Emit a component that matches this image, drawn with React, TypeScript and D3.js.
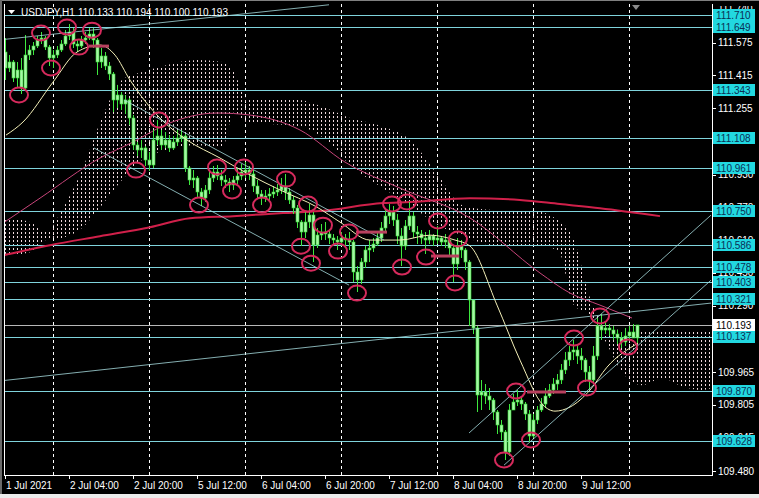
import React from "react";
import * as d3 from "d3";

// ---------- DATA (USDJPY H1, bar index 0 = 1 Jul 12:00) ----------
const firstOpen = 111.53;
const close = [
  111.451, 111.48, 111.402, 111.441, 111.353, 111.514, 111.539, 111.558, 111.588, 111.597,
  111.553, 111.5, 111.514, 111.539, 111.568, 111.607, 111.627, 111.568, 111.558, 111.588,
  111.597, 111.617, 111.588, 111.48, 111.509, 111.46, 111.421, 111.295, 111.319, 111.275,
  111.295, 111.206, 111.074, 111.05, 111.06, 111.001, 110.977, 111.099, 111.118, 111.074,
  111.099, 111.06, 111.089, 111.109, 111.118, 110.962, 110.903, 110.913, 110.845, 110.815,
  110.855, 110.913, 110.942, 110.923, 110.903, 110.894, 110.879, 110.903, 110.923, 110.942,
  110.952, 110.933, 110.874, 110.835, 110.815, 110.825, 110.835, 110.845, 110.855, 110.874,
  110.845, 110.806, 110.766, 110.698, 110.649, 110.698, 110.732, 110.585, 110.634, 110.649,
  110.639, 110.62, 110.61, 110.6, 110.62, 110.61, 110.6, 110.454, 110.414, 110.502,
  110.561, 110.571, 110.59, 110.62, 110.669, 110.727, 110.747, 110.708, 110.629, 110.58,
  110.678, 110.727, 110.649, 110.639, 110.62, 110.61, 110.629, 110.61, 110.62, 110.6,
  110.61, 110.571, 110.493, 110.58, 110.561, 110.502, 110.317, 110.18, 109.852, 109.867,
  109.847, 109.828, 109.769, 109.706, 109.671, 109.574, 109.779, 109.818, 109.828, 109.808,
  109.76, 109.652, 109.73, 109.779, 109.808, 109.847, 109.877, 109.906, 109.926, 109.975,
  110.023, 110.063, 110.072, 110.043, 110.023, 109.965, 109.926, 110.043, 110.19, 110.17,
  110.18, 110.17, 110.15, 110.131, 110.111, 110.141, 110.16, 110.133, 110.193,
];
const high = [
  111.597, 111.514, 111.49, 111.48, 111.5, 111.612, 111.563, 111.578, 111.607, 111.627,
  111.607, 111.563, 111.539, 111.558, 111.588, 111.636, 111.666, 111.646, 111.588, 111.607,
  111.627, 111.646, 111.646, 111.597, 111.548, 111.529, 111.48, 111.431, 111.368, 111.333,
  111.319, 111.304, 111.221, 111.089, 111.099, 111.069, 111.04, 111.148, 111.197, 111.148,
  111.138, 111.123, 111.118, 111.148, 111.148, 111.128, 110.972, 110.952, 110.923, 110.864,
  110.879, 110.942, 110.972, 110.977, 110.952, 110.928, 110.913, 110.923, 110.962, 110.981,
  110.991, 110.972, 110.952, 110.903, 110.855, 110.855, 110.864, 110.874, 110.884, 110.913,
  110.933, 110.864, 110.825, 110.781, 110.708, 110.747, 110.786, 110.747, 110.669, 110.688,
  110.698, 110.659, 110.639, 110.629, 110.649, 110.639, 110.649, 110.61, 110.483, 110.522,
  110.58, 110.61, 110.62, 110.649, 110.698, 110.757, 110.786, 110.776, 110.737, 110.669,
  110.708, 110.796, 110.747, 110.678, 110.659, 110.649, 110.659, 110.639, 110.678, 110.629,
  110.639, 110.62, 110.58, 110.62, 110.61, 110.571, 110.512, 110.317, 110.19, 109.926,
  109.906, 109.887, 109.838, 109.779, 109.73, 109.681, 109.808, 109.857, 109.877, 109.847,
  109.818, 109.779, 109.76, 109.799, 109.838, 109.887, 109.906, 109.935, 109.955, 110.004,
  110.063, 110.092, 110.121, 110.092, 110.082, 110.033, 109.994, 110.092, 110.229, 110.248,
  110.209, 110.199, 110.19, 110.17, 110.16, 110.18, 110.19, 110.199, 110.194,
];
const low = [
  111.392, 111.431, 111.382, 111.353, 111.324, 111.343, 111.49, 111.514, 111.548, 111.568,
  111.539, 111.46, 111.451, 111.5, 111.529, 111.558, 111.588, 111.548, 111.529, 111.548,
  111.568, 111.588, 111.548, 111.417, 111.451, 111.441, 111.392, 111.236, 111.255, 111.245,
  111.226, 111.172, 111.05, 111.021, 111.011, 110.972, 110.947, 110.962, 111.074, 111.05,
  111.06, 111.04, 111.05, 111.069, 111.089, 110.942, 110.879, 110.864, 110.815, 110.776,
  110.796, 110.835, 110.894, 110.903, 110.874, 110.864, 110.845, 110.855, 110.884, 110.903,
  110.913, 110.903, 110.845, 110.815, 110.781, 110.796, 110.806, 110.815, 110.825, 110.835,
  110.806, 110.786, 110.737, 110.669, 110.58, 110.62, 110.669, 110.502, 110.571, 110.61,
  110.61, 110.59, 110.58, 110.561, 110.58, 110.58, 110.561, 110.405, 110.356, 110.395,
  110.473, 110.502, 110.551, 110.58, 110.6, 110.649, 110.688, 110.678, 110.59, 110.483,
  110.561, 110.659, 110.62, 110.59, 110.59, 110.541, 110.59, 110.58, 110.59, 110.58,
  110.571, 110.532, 110.405, 110.463, 110.522, 110.463, 110.19, 110.15, 109.769, 109.779,
  109.808, 109.779, 109.73, 109.662, 109.632, 109.535, 109.554, 109.779, 109.799, 109.779,
  109.73, 109.623, 109.642, 109.711, 109.769, 109.789, 109.838, 109.857, 109.877, 109.906,
  109.955, 109.994, 110.023, 110.004, 109.975, 109.916, 109.877, 109.906, 110.023, 110.121,
  110.15, 110.141, 110.121, 110.102, 110.082, 110.092, 110.121, 110.131, 110.1,
];

// moving averages sampled at bar positions
const maFastIdx = [0.25, 4.5, 12, 18, 23.75, 27.5, 31.25, 38.75, 45.5, 53.75, 61.25, 68.75, 78, 83.75, 91.25, 98.75, 106.25, 112.5, 116.25, 123, 128.75, 134.5, 137.5, 141.25, 146.25, 150.5, 158.25];
const maFastVal = [111.123, 111.187, 111.382, 111.529, 111.563, 111.514, 111.392, 111.206, 111.099, 111.011, 110.928, 110.855, 110.771, 110.698, 110.61, 110.61, 110.634, 110.61, 110.581, 110.292, 110.023, 109.804, 109.774, 109.794, 109.877, 109.989, 110.106];
const maMidIdx = [-1.25, 8.75, 23.75, 32, 40.5, 53, 61.25, 73.75, 85, 98.75, 116.25, 133.75, 141.25, 148.75, 156.75];
const maMidVal = [110.683, 110.815, 111.011, 111.089, 111.177, 111.231, 111.221, 111.148, 110.991, 110.864, 110.718, 110.449, 110.351, 110.292, 110.229];
const maSlowIdx = [-1.25, 11.25, 23.75, 36.25, 46.25, 57, 69.5, 78.75, 94.5, 101.25, 116.25, 128.75, 138.75, 148.75, 163.75];
const maSlowVal = [110.532, 110.585, 110.629, 110.673, 110.717, 110.727, 110.742, 110.752, 110.791, 110.796, 110.815, 110.806, 110.786, 110.766, 110.727];

// Ichimoku cloud (upper / lower span)
const cloudIdx = [-0.75, 6.25, 10.25, 14.25, 19.25, 24.25, 29.25, 34.25, 40.25, 48.25, 54.25, 57.25, 60.25, 66.25, 73.25, 80.25, 86.25, 93.25, 101.25, 108.25, 114.25, 122.25, 131.25, 138.25, 142.25, 146.25, 150.25, 154.25, 159.25, 164.25, 169.25, 174.25, 176.75];
const cloudTop = [110.718, 110.698, 110.649, 110.757, 110.952, 111.206, 111.392, 111.431, 111.465, 111.49, 111.48, 111.431, 111.304, 111.295, 111.295, 111.255, 111.206, 111.172, 111.099, 110.928, 110.781, 110.757, 110.757, 110.708, 110.61, 110.327, 110.19, 110.17, 110.17, 110.17, 110.17, 110.17, 110.17];
const cloudBottom = [110.532, 110.551, 110.61, 110.62, 110.669, 110.781, 110.903, 111.001, 111.05, 111.074, 111.06, 111.236, 111.187, 111.177, 111.167, 111.099, 110.977, 110.879, 110.781, 110.683, 110.634, 110.585, 110.585, 110.561, 110.292, 110.244, 110.111, 109.965, 109.901, 109.935, 109.896, 109.877, 109.887];

const levels = [111.71, 111.649, 111.343, 111.108, 110.961, 110.75, 110.586, 110.478, 110.403, 110.321, 110.137, 109.87, 109.628];
const axisTicks = [111.74, 111.575, 111.415, 111.255, 111.095, 110.93, 110.77, 110.61, 110.45, 110.29, 110.125, 109.965, 109.805, 109.645, 109.48];
const bid = 110.193;

const timeTickIdx = [0, 16, 32, 48, 64, 80, 96, 112, 128, 144];
const timeTickLabels = ["1 Jul 2021", "2 Jul 04:00", "2 Jul 20:00", "5 Jul 12:00", "6 Jul 04:00", "6 Jul 20:00", "7 Jul 12:00", "8 Jul 04:00", "8 Jul 20:00", "9 Jul 12:00"];
const daySeparatorIdx = [12, 36, 60, 84, 108, 132, 156];

// trend lines: [i1, p1, i2, p2]
const trendLines = [
  [-1.5, 109.921, 176.5, 110.302],
  [-1.5, 111.588, 81, 111.76],
  [22.25, 111.06, 86, 110.39],
  [29.75, 111.295, 94.75, 110.61],
  [116, 109.667, 176.5, 110.732],
  [124.75, 109.51, 176.5, 110.414],
];
// short marker segments: [i1, i2, price]
const markSegs = [
  [21, 26, 111.558],
  [87.75, 95.5, 110.649],
  [106.5, 113.5, 110.532],
  [130.5, 140.25, 109.867],
];
// swing circles: [i, price]
const circles = [
  [3.5, 111.319], [9, 111.622], [11.5, 111.451], [15.5, 111.651], [18.5, 111.553], [21.75, 111.636],
  [32.75, 110.952], [38.5, 111.197], [48.5, 110.781], [53, 110.967], [56.75, 110.85], [59.75, 110.967],
  [64.25, 110.781], [70.25, 110.908], [74, 110.58], [75.75, 110.786], [76.5, 110.497], [79.5, 110.683],
  [83.25, 110.556], [86, 110.649], [88, 110.351], [96.75, 110.786], [99.25, 110.478], [100.5, 110.796],
  [105.25, 110.527], [108.25, 110.703], [112.5, 110.4], [113.25, 110.615], [124.75, 109.535],
  [127.75, 109.872], [131.5, 109.633], [142.25, 110.131], [145.5, 109.887], [148.75, 110.239], [155.75, 110.087],
];

const FONT = "'Liberation Sans', Arial, sans-serif";

export default function App() {
  const PL = 4, PR = 712, PT = 4, PB = 475;
  const x = d3.scaleLinear().domain([0, 1]).range([5, 9]);
  const y = d3.scaleLinear().domain([109.628, 111.71]).range([441, 15]);

  const lineGen = d3
    .line<[number, number]>()
    .x((d) => x(d[0]))
    .y((d) => y(d[1]))
    .curve(d3.curveMonotoneX);

  const cloudData = cloudIdx.map((i, k) => ({ i, t: cloudTop[k], b: cloudBottom[k] }));
  const area = d3
    .area<{ i: number; t: number; b: number }>()
    .x((d) => x(d.i))
    .y0((d) => y(d.b))
    .y1((d) => y(d.t))
    .curve(d3.curveMonotoneX);

  const mk = (idx: number[], val: number[]) => idx.map((v, k) => [v, val[k]] as [number, number]);

  const candles = close.map((c, i) => {
    const o = i === 0 ? firstOpen : close[i - 1];
    const cx = Math.round(x(i));
    const yt = Math.round(y(Math.max(o, c)));
    const yb = Math.round(y(Math.min(o, c)));
    return (
      <g key={i}>
        <rect x={cx} y={Math.round(y(high[i]))} width={1} height={Math.max(1, Math.round(y(low[i])) - Math.round(y(high[i])))} fill="#3ee83e" />
        <rect x={cx - 1} y={yt} width={3} height={Math.max(1, yb - yt)} fill="#a6f5a6" stroke="#30dc30" strokeWidth={0.6} />
      </g>
    );
  });

  return (
    <svg width={759} height={498} style={{ position: "fixed", left: 0, top: 0, display: "block" }} fontFamily={FONT}>
      <defs>
        <clipPath id="plot">
          <rect x={PL} y={PT} width={PR - PL} height={PB - PT} />
        </clipPath>
        <clipPath id="axisclip">
          <rect x={PR} y={6} width={759 - PR} height={PB - 6} />
        </clipPath>
        <pattern id="hatch" patternUnits="userSpaceOnUse" width={4} height={4} x={5} y={0}>
          <rect x={0} y={0} width={1} height={2} fill="#eed8dc" />
        </pattern>
      </defs>
      <rect x={0} y={0} width={759} height={498} fill="#000" />
      <rect x={0} y={0} width={759} height={1} fill="#808080" />
      <rect x={0} y={0} width={2} height={498} fill="#6a6a6a" />
      <rect x={0} y={494} width={759} height={4} fill="#ececec" />

      <g clipPath="url(#plot)">
        {/* day separators */}
        {daySeparatorIdx.map((i) => (
          <line key={i} x1={Math.round(x(i)) + 0.5} x2={Math.round(x(i)) + 0.5} y1={PT} y2={PB} stroke="#fff" strokeDasharray="3,3" />
        ))}
        {/* cloud */}
        <path d={area(cloudData) || ""} fill="url(#hatch)" />
        {/* horizontal levels */}
        {levels.map((p) => (
          <line key={p} x1={PL} x2={PR} y1={Math.round(y(p)) + 0.5} y2={Math.round(y(p)) + 0.5} stroke="#7fd3dc" strokeWidth={1} />
        ))}
        <line x1={PL} x2={PR} y1={Math.round(y(bid)) + 0.5} y2={Math.round(y(bid)) + 0.5} stroke="#b8b8b8" strokeWidth={1} />
        {/* moving averages */}
        <path d={lineGen(mk(maSlowIdx, maSlowVal)) || ""} fill="none" stroke="#d0204a" strokeWidth={2} />
        <path d={lineGen(mk(maMidIdx, maMidVal)) || ""} fill="none" stroke="#c8457a" strokeWidth={1} />
        {/* candles */}
        {candles}
        <path d={lineGen(mk(maFastIdx, maFastVal)) || ""} fill="none" stroke="#f4f0b8" strokeWidth={1} />
        {/* trend lines */}
        {trendLines.map((t, k) => (
          <line key={k} x1={x(t[0])} y1={y(t[1])} x2={x(t[2])} y2={y(t[3])} stroke="#a6dadd" strokeWidth={0.8} />
        ))}
        {/* marker segments */}
        {markSegs.map((s, k) => (
          <line key={k} x1={x(s[0])} x2={x(s[1])} y1={y(s[2])} y2={y(s[2])} stroke="#b8405e" strokeWidth={3} />
        ))}
        {/* circles */}
        {circles.map((c, k) => (
          <ellipse key={k} cx={x(c[0])} cy={y(c[1])} rx={9} ry={7.5} fill="none" stroke="#d52a5c" strokeWidth={2} />
        ))}
      </g>

      {/* frame */}
      <line x1={PL + 0.5} x2={PL + 0.5} y1={PT} y2={PB} stroke="#fff" />
      <line x1={PR + 0.5} x2={PR + 0.5} y1={PT} y2={PB + 0.5} stroke="#fff" />
      <line x1={PL} x2={PR + 1} y1={PB + 0.5} y2={PB + 0.5} stroke="#fff" />

      {/* title */}
      <polygon points="8,10 15,10 11.5,14" fill="#fff" />
      <text x={21} y={16} fill="#fff" fontSize={10}>USDJPY,H1</text>
      <text x={78} y={16} fill="#fff" fontSize={10}>110.133 110.194 110.100 110.193</text>
      <polygon points="632,5 640,5 636,10" fill="#8a8a8a" />

      {/* right axis ticks */}
      <g clipPath="url(#axisclip)">
        {axisTicks.map((p) => (
          <g key={p}>
            <line x1={PR} x2={PR + 4} y1={Math.round(y(p)) + 0.5} y2={Math.round(y(p)) + 0.5} stroke="#fff" />
            <text x={718} y={y(p)} dy="0.35em" fill="#fff" fontSize={10}>
              {p.toFixed(3)}
            </text>
          </g>
        ))}
        {levels.map((p) => (
          <g key={p}>
            <rect x={713} y={Math.round(y(p)) - 6} width={42} height={12} fill="#22d8e0" />
            <text x={716} y={y(p)} dy="0.36em" fill="#0a2e55" fontSize={10}>
              {p.toFixed(3)}
            </text>
          </g>
        ))}
        <rect x={713} y={Math.round(y(bid)) - 6} width={42} height={12} fill="#fff" />
        <text x={716} y={y(bid)} dy="0.36em" fill="#000" fontSize={10}>
          {bid.toFixed(3)}
        </text>
      </g>

      {/* bottom axis */}
      {timeTickIdx.map((i, k) => (
        <g key={i}>
          <line x1={Math.round(x(i)) + 0.5} x2={Math.round(x(i)) + 0.5} y1={PB} y2={PB + 4} stroke="#fff" />
          <text x={Math.round(x(i)) + 1} y={489} fill="#fff" fontSize={10}>
            {timeTickLabels[k]}
          </text>
        </g>
      ))}
    </svg>
  );
}
